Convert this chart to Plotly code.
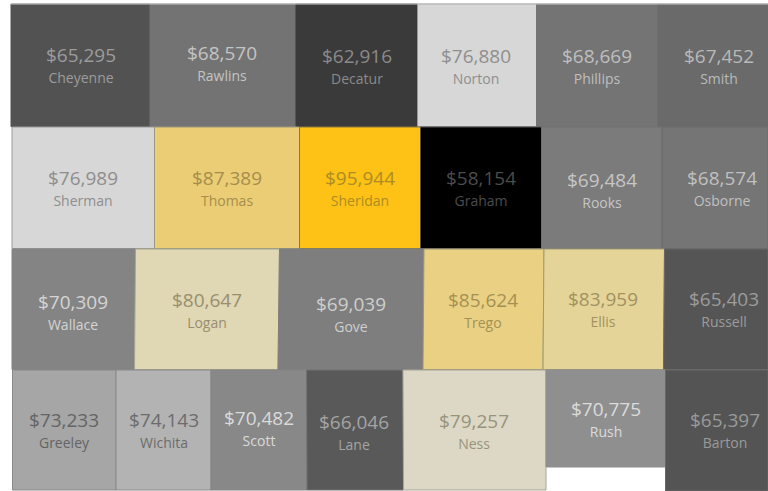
import plotly.graph_objects as go

# ---- data ----
counties = ["Cheyenne", "Rawlins", "Decatur", "Norton", "Phillips", "Smith",
            "Sherman", "Thomas", "Sheridan", "Graham", "Rooks", "Osborne",
            "Wallace", "Logan", "Gove", "Trego", "Ellis", "Russell",
            "Greeley", "Wichita", "Scott", "Lane", "Ness", "Rush", "Barton"]
income = [65295, 68570, 62916, 76880, 68669, 67452,
          76989, 87389, 95944, 58154, 69484, 68574,
          70309, 80647, 69039, 85624, 83959, 65403,
          73233, 74143, 70482, 66046, 79257, 70775, 65397]

# county outlines (map units): x then y of each corner
outline_x = [
    [11, 150, 150, 11], [150, 296, 296, 150], [296, 417.5, 417.5, 296],
    [417.5, 536.5, 536.5, 417.5], [536.5, 658, 658, 536.5], [658, 768, 768, 658],
    [12, 154.5, 154.5, 12], [154.5, 299.5, 299.5, 154.5], [299.5, 420.5, 420.5, 299.5],
    [420.5, 541.5, 541.5, 420.5], [541.5, 662, 662, 541.5], [662, 768, 768, 662],
    [12, 135.5, 134.5, 12], [135.5, 279.5, 278, 134.5], [279.5, 424, 423, 278],
    [424, 544, 543, 423], [544, 664.5, 663.5, 543], [664.5, 768, 768, 663.5],
    [12.5, 116, 116, 12.5], [116, 211, 211, 116], [211, 306.5, 307, 211],
    [306.5, 403, 403.5, 307], [403, 546, 546, 403.5], [546, 665.5, 665.5, 546],
    [665.5, 768, 768, 665.5],
]
outline_y = [
    [4, 4, 126.5, 126.5]] * 6 + [
    [127, 127, 248.5, 248.5]] * 6 + [
    [249, 249, 369.5, 369.5]] * 6 + [
    [370, 370, 490, 490]] * 5 + [
    [370, 370, 467, 467], [370, 370, 491, 491]]

fills = ["#525252", "#737373", "#3a3a3a", "#d7d7d7", "#747474", "#6a6a6a",
         "#d7d7d7", "#ebcd75", "#fec115", "#000000", "#7b7b7b", "#757575",
         "#848484", "#e0d7b5", "#7e7e7e", "#e9d083", "#e5d498", "#555555",
         "#a6a6a6", "#b3b3b3", "#888888", "#595959", "#dcd8c5", "#8f8f8f", "#545454"]
label_colors = ["#9c9c9c", "#c4c4c4", "#8a8a8a", "#8e8e8e", "#bfbfbf", "#b9b9b9",
                "#8e8e8e", "#a58e4c", "#ab8d25", "#4c4c4c", "#c6c6c6", "#c0c0c0",
                "#d4d4d4", "#998e6e", "#cecece", "#a59054", "#a09262", "#9c9c9c",
                "#646464", "#6c6c6c", "#dadada", "#a4a4a4", "#98937c", "#dcdcdc", "#9a9a9a"]
edge_colors = ["#525252", "#737373", "#3a3a3a", "#999999", "#747474", "#6a6a6a",
               "#9a9a9a", "#9a9a80", "#8a7a40", "#555555", "#707070", "#6c6c6c",
               "#848484", "#a5a58f", "#7e7e7e", "#a09870", "#a09a78", "#686868",
               "#8a8a8a", "#8a8a8a", "#848484", "#727272", "#a8a698", "#8f8f8f", "#686868"]
label_x = [81, 222, 357, 476, 597, 719,
           83, 227, 360, 481, 602, 722,
           73, 207, 351, 483, 603, 724,
           64, 164, 259, 354, 474, 606, 725]
value_y = [57, 55, 58, 58, 58, 58,
           180, 180, 180, 180, 182, 180,
           304, 302, 306, 302, 301, 301,
           422, 422, 420, 424, 423, 411, 422]
name_y = [79, 77, 80, 80, 80, 80,
          202, 202, 202, 202, 204, 202,
          326, 324, 328, 324, 323, 323,
          444, 444, 442, 446, 445, 433, 444]

FONT = "Open Sans, DejaVu Sans, sans-serif"
fig = go.Figure()
for i, c in enumerate(counties):
    fig.add_trace(go.Scatter(
        x=outline_x[i] + outline_x[i][:1], y=outline_y[i] + outline_y[i][:1],
        mode="lines", fill="toself", fillcolor=fills[i],
        line=dict(color=edge_colors[i], width=1),
        hoverinfo="skip", showlegend=False, name=c))
for i, c in enumerate(counties):
    fig.add_trace(go.Scatter(
        x=[label_x[i], label_x[i]], y=[value_y[i], name_y[i]], mode="text",
        text=[f"${income[i]:,}", c], textposition="middle center",
        textfont=dict(family=FONT, size=[19, 14], color=label_colors[i]),
        hoverinfo="skip", showlegend=False))
fig.add_shape(type="line", x0=11, x1=768, y0=4, y1=4,
              line=dict(color="#c8c8c8", width=1))
fig.update_layout(
    width=768, height=491, margin=dict(l=0, r=0, t=0, b=0),
    paper_bgcolor="white", plot_bgcolor="white",
    xaxis=dict(range=[0, 768], visible=False, fixedrange=True),
    yaxis=dict(range=[491, 0], visible=False, fixedrange=True))
fig.write_html("out.html", config=dict(displayModeBar=False),
               post_script="document.body.style.margin='0';document.documentElement.style.overflow='hidden';")
